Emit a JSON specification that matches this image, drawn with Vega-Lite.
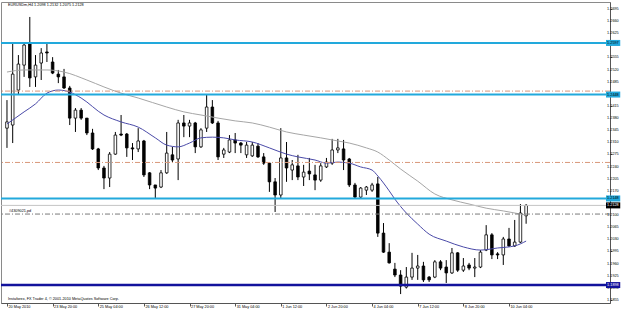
{
  "$schema": "https://vega.github.io/schema/vega-lite/v6.json",
  "width": 609,
  "height": 301,
  "autosize": {"type": "none"},
  "padding": {"left": 1, "top": 2, "right": 15, "bottom": 7},
  "background": "white",
  "config": {"view": {"stroke": "#8a8a8a", "strokeWidth": 1}, "font": "Liberation Sans"},
  "datasets": {
    "candles": [
      {"i":1,"o":1.2351,"h":1.2432,"l":1.2294,"c":1.2369},
      {"i":2,"o":1.2360,"h":1.2597,"l":1.2308,"c":1.2507},
      {"i":3,"o":1.2461,"h":1.2562,"l":1.2447,"c":1.2536},
      {"i":4,"o":1.2533,"h":1.2597,"l":1.2499,"c":1.2591},
      {"i":5,"o":1.2594,"h":1.2672,"l":1.2470,"c":1.2496},
      {"i":6,"o":1.2499,"h":1.2562,"l":1.2470,"c":1.2533},
      {"i":7,"o":1.2539,"h":1.2582,"l":1.2490,"c":1.2568},
      {"i":8,"o":1.2571,"h":1.2597,"l":1.2542,"c":1.2568},
      {"i":9,"o":1.2542,"h":1.2556,"l":1.2507,"c":1.2510},
      {"i":10,"o":1.2507,"h":1.2519,"l":1.2481,"c":1.2499},
      {"i":11,"o":1.2499,"h":1.2522,"l":1.2464,"c":1.2467},
      {"i":12,"o":1.2467,"h":1.2473,"l":1.2360,"c":1.2380},
      {"i":13,"o":1.2380,"h":1.2409,"l":1.2340,"c":1.2403},
      {"i":14,"o":1.2403,"h":1.2409,"l":1.2375,"c":1.2380},
      {"i":15,"o":1.2380,"h":1.2380,"l":1.2331,"c":1.2337},
      {"i":16,"o":1.2337,"h":1.2349,"l":1.2288,"c":1.2291},
      {"i":17,"o":1.2291,"h":1.2294,"l":1.2230,"c":1.2236},
      {"i":18,"o":1.2236,"h":1.2242,"l":1.2175,"c":1.2207},
      {"i":19,"o":1.2207,"h":1.2282,"l":1.2181,"c":1.2276},
      {"i":20,"o":1.2276,"h":1.2340,"l":1.2274,"c":1.2331},
      {"i":21,"o":1.2334,"h":1.2389,"l":1.2328,"c":1.2331},
      {"i":22,"o":1.2334,"h":1.2337,"l":1.2268,"c":1.2294},
      {"i":23,"o":1.2294,"h":1.2308,"l":1.2259,"c":1.2291},
      {"i":24,"o":1.2291,"h":1.2351,"l":1.2282,"c":1.2314},
      {"i":25,"o":1.2314,"h":1.2317,"l":1.2210,"c":1.2216},
      {"i":26,"o":1.2222,"h":1.2224,"l":1.2175,"c":1.2187},
      {"i":27,"o":1.2187,"h":1.2187,"l":1.2149,"c":1.2178},
      {"i":28,"o":1.2181,"h":1.2230,"l":1.2178,"c":1.2222},
      {"i":29,"o":1.2222,"h":1.2340,"l":1.2219,"c":1.2279},
      {"i":30,"o":1.2274,"h":1.2297,"l":1.2253,"c":1.2259},
      {"i":31,"o":1.2262,"h":1.2375,"l":1.2201,"c":1.2366},
      {"i":32,"o":1.2366,"h":1.2389,"l":1.2325,"c":1.2357},
      {"i":33,"o":1.2357,"h":1.2375,"l":1.2325,"c":1.2366},
      {"i":34,"o":1.2366,"h":1.2369,"l":1.2279,"c":1.2297},
      {"i":35,"o":1.2297,"h":1.2351,"l":1.2294,"c":1.2346},
      {"i":36,"o":1.2351,"h":1.2447,"l":1.2340,"c":1.2412},
      {"i":37,"o":1.2412,"h":1.2432,"l":1.2363,"c":1.2366},
      {"i":38,"o":1.2366,"h":1.2372,"l":1.2259,"c":1.2268},
      {"i":39,"o":1.2276,"h":1.2294,"l":1.2265,"c":1.2288},
      {"i":40,"o":1.2282,"h":1.2331,"l":1.2279,"c":1.2317},
      {"i":41,"o":1.2317,"h":1.2337,"l":1.2279,"c":1.2308},
      {"i":42,"o":1.2308,"h":1.2311,"l":1.2279,"c":1.2302},
      {"i":43,"o":1.2274,"h":1.2311,"l":1.2265,"c":1.2302},
      {"i":44,"o":1.2271,"h":1.2311,"l":1.2268,"c":1.2302},
      {"i":45,"o":1.2299,"h":1.2308,"l":1.2265,"c":1.2268},
      {"i":46,"o":1.2268,"h":1.2279,"l":1.2245,"c":1.2250},
      {"i":47,"o":1.2250,"h":1.2253,"l":1.2167,"c":1.2196},
      {"i":48,"o":1.2196,"h":1.2207,"l":1.2109,"c":1.2158},
      {"i":49,"o":1.2158,"h":1.2351,"l":1.2149,"c":1.2265},
      {"i":50,"o":1.2265,"h":1.2311,"l":1.2196,"c":1.2236},
      {"i":51,"o":1.2230,"h":1.2259,"l":1.2201,"c":1.2245},
      {"i":52,"o":1.2242,"h":1.2274,"l":1.2201,"c":1.2210},
      {"i":53,"o":1.2210,"h":1.2245,"l":1.2184,"c":1.2224},
      {"i":54,"o":1.2227,"h":1.2265,"l":1.2201,"c":1.2219},
      {"i":55,"o":1.2216,"h":1.2245,"l":1.2172,"c":1.2201},
      {"i":56,"o":1.2201,"h":1.2250,"l":1.2196,"c":1.2242},
      {"i":57,"o":1.2239,"h":1.2265,"l":1.2236,"c":1.2253},
      {"i":58,"o":1.2250,"h":1.2320,"l":1.2245,"c":1.2288},
      {"i":59,"o":1.2288,"h":1.2320,"l":1.2279,"c":1.2294},
      {"i":60,"o":1.2291,"h":1.2317,"l":1.2230,"c":1.2259},
      {"i":61,"o":1.2262,"h":1.2265,"l":1.2181,"c":1.2187},
      {"i":62,"o":1.2187,"h":1.2193,"l":1.2149,"c":1.2152},
      {"i":63,"o":1.2152,"h":1.2181,"l":1.2149,"c":1.2178},
      {"i":64,"o":1.2172,"h":1.2184,"l":1.2158,"c":1.2181},
      {"i":65,"o":1.2172,"h":1.2193,"l":1.2167,"c":1.2187},
      {"i":66,"o":1.2190,"h":1.2210,"l":1.2037,"c":1.2048},
      {"i":67,"o":1.2048,"h":1.2077,"l":1.1991,"c":1.1993},
      {"i":68,"o":1.1993,"h":1.2019,"l":1.1960,"c":1.1962},
      {"i":69,"o":1.1944,"h":1.1962,"l":1.1921,"c":1.1927},
      {"i":70,"o":1.1927,"h":1.1941,"l":1.1872,"c":1.1895},
      {"i":71,"o":1.1892,"h":1.1950,"l":1.1888,"c":1.1921},
      {"i":72,"o":1.1921,"h":1.1991,"l":1.1913,"c":1.1947},
      {"i":73,"o":1.1947,"h":1.1985,"l":1.1913,"c":1.1953},
      {"i":74,"o":1.1953,"h":1.1965,"l":1.1907,"c":1.1913},
      {"i":75,"o":1.1921,"h":1.1924,"l":1.1907,"c":1.1913},
      {"i":76,"o":1.1921,"h":1.1970,"l":1.1918,"c":1.1965},
      {"i":77,"o":1.1965,"h":1.1970,"l":1.1941,"c":1.1947},
      {"i":78,"o":1.1950,"h":1.1970,"l":1.1904,"c":1.1933},
      {"i":79,"o":1.1933,"h":1.2005,"l":1.1930,"c":1.1991},
      {"i":80,"o":1.1991,"h":1.1993,"l":1.1936,"c":1.1941},
      {"i":81,"o":1.1941,"h":1.1976,"l":1.1936,"c":1.1953},
      {"i":82,"o":1.1956,"h":1.1962,"l":1.1941,"c":1.1947},
      {"i":83,"o":1.1947,"h":1.1976,"l":1.1921,"c":1.1950},
      {"i":84,"o":1.1950,"h":1.1999,"l":1.1947,"c":1.1993},
      {"i":85,"o":1.1999,"h":1.2071,"l":1.1996,"c":1.2043},
      {"i":86,"o":1.2043,"h":1.2048,"l":1.1973,"c":1.1985},
      {"i":87,"o":1.1988,"h":1.1993,"l":1.1973,"c":1.1985},
      {"i":88,"o":1.1985,"h":1.2037,"l":1.1956,"c":1.2031},
      {"i":89,"o":1.2031,"h":1.2063,"l":1.2008,"c":1.2011},
      {"i":90,"o":1.2011,"h":1.2086,"l":1.2008,"c":1.2022},
      {"i":91,"o":1.2022,"h":1.2132,"l":1.2019,"c":1.2106},
      {"i":92,"o":1.2098,"h":1.2132,"l":1.2075,"c":1.2128}
    ],
    "maFast": [
      {"i":1,"v":1.2363},{"i":4,"v":1.2398},{"i":6,"v":1.2421},{"i":8,"v":1.2452},{"i":10,"v":1.2461},
      {"i":12,"v":1.2455},{"i":14,"v":1.2438},{"i":18,"v":1.2389},{"i":21,"v":1.2369},{"i":24,"v":1.2354},
      {"i":27,"v":1.2323},{"i":29,"v":1.2302},{"i":31,"v":1.2297},{"i":33,"v":1.2308},{"i":35,"v":1.2323},
      {"i":37,"v":1.2325},{"i":39,"v":1.2323},{"i":41,"v":1.2317},{"i":44,"v":1.2311},{"i":47,"v":1.2294},
      {"i":50,"v":1.2276},{"i":52,"v":1.2268},{"i":55,"v":1.2259},{"i":57,"v":1.2250},{"i":59,"v":1.2253},
      {"i":61,"v":1.2250},{"i":63,"v":1.2239},{"i":65,"v":1.2230},{"i":66,"v":1.2213},{"i":68,"v":1.2170},
      {"i":69,"v":1.2146},{"i":71,"v":1.2106},{"i":73,"v":1.2074},{"i":75,"v":1.2045},{"i":78,"v":1.2025},
      {"i":81,"v":1.2008},{"i":84,"v":1.1999},{"i":87,"v":1.2005},{"i":90,"v":1.2011},{"i":92,"v":1.2025}
    ],
    "maSlow": [
      {"i":1,"v":1.2513},{"i":4,"v":1.2519},{"i":8,"v":1.2519},{"i":11,"v":1.2513},{"i":15,"v":1.2490},
      {"i":18,"v":1.2470},{"i":21,"v":1.2452},{"i":24,"v":1.2438},{"i":29,"v":1.2412},{"i":32,"v":1.2398},
      {"i":35,"v":1.2389},{"i":38,"v":1.2380},{"i":41,"v":1.2372},{"i":44,"v":1.2366},{"i":47,"v":1.2354},
      {"i":50,"v":1.2340},{"i":53,"v":1.2331},{"i":56,"v":1.2323},{"i":59,"v":1.2314},{"i":61,"v":1.2308},
      {"i":64,"v":1.2294},{"i":66,"v":1.2282},{"i":68,"v":1.2259},{"i":70,"v":1.2233},{"i":73,"v":1.2198},
      {"i":76,"v":1.2161},{"i":79,"v":1.2144},{"i":82,"v":1.2132},{"i":85,"v":1.2120},{"i":88,"v":1.2112},
      {"i":91,"v":1.2103},{"i":92,"v":1.2100}
    ],
    "yTicks": [
      {"p":1.1855},{"p":1.1890},{"p":1.1925},{"p":1.1960},{"p":1.1995},{"p":1.2030},{"p":1.2065},{"p":1.2100},
      {"p":1.2170},{"p":1.2205},{"p":1.2240},{"p":1.2275},{"p":1.2310},{"p":1.2345},{"p":1.2380},{"p":1.2415},
      {"p":1.2450},{"p":1.2485},{"p":1.2520},{"p":1.2555},{"p":1.2590},{"p":1.2625},{"p":1.2660},{"p":1.2695}
    ],
    "blueLevels": [{"p":1.2597},{"p":1.2448},{"p":1.2148}],
    "navyLevels": [{"p":1.1898}],
    "orangeLevels": [{"p":1.2458},{"p":1.2252}],
    "orderLevels": [{"p":1.2103}],
    "priceLevels": [{"p":1.2128}]
  },
  "layer": [
    {
      "data": {"name": "candles"},
      "mark": {"type": "rule", "color": "black", "strokeWidth": 1},
      "encoding": {
        "x": {"field": "i", "type": "quantitative", "title": null,
          "scale": {"domain": [0.8276, 105.828], "nice": false, "zero": false},
          "axis": {"orient": "bottom", "values": [1,5,9,13,17,21,25,29,33,37,41,45,49,53,57,61,65,69,73,77,81,85,89],
            "labelExpr": "['20 May 2010','21 May 04:00','23 May 20:00','24 May 12:00','25 May 04:00','25 May 20:00','26 May 12:00','27 May 04:00','27 May 20:00','28 May 12:00','31 May 04:00','31 May 20:00','1 Jun 12:00','2 Jun 04:00','2 Jun 20:00','3 Jun 12:00','4 Jun 04:00','6 Jun 20:00','7 Jun 12:00','8 Jun 04:00','8 Jun 20:00','9 Jun 12:00','10 Jun 04:00'][(datum.value-1)/4]",
            "labelAlign": "left", "labelBaseline": "top", "labelFontSize": 3.8, "labelColor": "black",
            "labelPadding": -1.5, "labelOffset": 1, "tickSize": 3, "tickColor": "#555555", "domainColor": "#555555",
            "labelOverlap": false, "labelFlush": false, "labelBound": false, "grid": false}},
        "y": {"field": "l", "type": "quantitative", "title": null,
          "scale": {"domain": [1.18462, 1.27152], "nice": false, "zero": false},
          "axis": {"orient": "right", "values": [1.1855,1.189,1.1925,1.196,1.1995,1.203,1.2065,1.21,1.2135,1.217,1.2205,1.224,1.2275,1.231,1.2345,1.238,1.2415,1.245,1.2485,1.252,1.2555,1.259,1.2625,1.266,1.2695],
            "labels": false, "tickSize": 2, "tickColor": "#555555", "domainColor": "#555555", "grid": false}},
        "y2": {"field": "h"}
      }
    },
    {
      "data": {"name": "candles"},
      "mark": {"type": "bar", "size": 2.6, "stroke": "black", "strokeWidth": 0.8},
      "encoding": {
        "x": {"field": "i", "type": "quantitative", "title": null, "scale": {"domain": [0.8276, 105.828], "nice": false, "zero": false}},
        "y": {"field": "o", "type": "quantitative", "title": null, "scale": {"domain": [1.18462, 1.27152], "nice": false, "zero": false}},
        "y2": {"field": "c"},
        "fill": {"condition": {"test": "datum.c >= datum.o", "value": "white"}, "value": "black"}
      }
    },
    {
      "data": {"name": "maSlow"},
      "mark": {"type": "line", "color": "#a6a6a6", "strokeWidth": 1, "interpolate": "monotone"},
      "encoding": {
        "x": {"field": "i", "type": "quantitative", "title": null, "scale": {"domain": [0.8276, 105.828], "nice": false, "zero": false}},
        "y": {"field": "v", "type": "quantitative", "title": null, "scale": {"domain": [1.18462, 1.27152], "nice": false, "zero": false}}
      }
    },
    {
      "data": {"name": "maFast"},
      "mark": {"type": "line", "color": "#4a4aa8", "strokeWidth": 1, "interpolate": "monotone"},
      "encoding": {
        "x": {"field": "i", "type": "quantitative", "title": null, "scale": {"domain": [0.8276, 105.828], "nice": false, "zero": false}},
        "y": {"field": "v", "type": "quantitative", "title": null, "scale": {"domain": [1.18462, 1.27152], "nice": false, "zero": false}}
      }
    },
    {
      "data": {"name": "priceLevels"},
      "mark": {"type": "rule", "color": "#c4c4c4", "strokeWidth": 1},
      "encoding": {"y": {"field": "p", "type": "quantitative", "title": null, "scale": {"domain": [1.18462, 1.27152], "nice": false, "zero": false}}}
    },
    {
      "data": {"name": "orangeLevels"},
      "mark": {"type": "rule", "color": "#d9977a", "strokeWidth": 1, "strokeDash": [5, 2, 1, 2]},
      "encoding": {"y": {"field": "p", "type": "quantitative", "title": null, "scale": {"domain": [1.18462, 1.27152], "nice": false, "zero": false}}}
    },
    {
      "data": {"name": "orderLevels"},
      "mark": {"type": "rule", "color": "#7a7a7a", "strokeWidth": 1, "strokeDash": [5, 2, 1, 2]},
      "encoding": {"y": {"field": "p", "type": "quantitative", "title": null, "scale": {"domain": [1.18462, 1.27152], "nice": false, "zero": false}}}
    },
    {
      "data": {"name": "blueLevels"},
      "mark": {"type": "rule", "color": "#22a9dc", "strokeWidth": 2},
      "encoding": {"y": {"field": "p", "type": "quantitative", "title": null, "scale": {"domain": [1.18462, 1.27152], "nice": false, "zero": false}}}
    },
    {
      "data": {"name": "navyLevels"},
      "mark": {"type": "rule", "color": "#12129c", "strokeWidth": 2.5},
      "encoding": {"y": {"field": "p", "type": "quantitative", "title": null, "scale": {"domain": [1.18462, 1.27152], "nice": false, "zero": false}}}
    },
    {
      "data": {"name": "yTicks"},
      "mark": {"type": "text", "align": "left", "baseline": "middle", "fontSize": 3.8, "color": "black"},
      "encoding": {
        "x": {"datum": 106.2, "type": "quantitative", "scale": {"domain": [0.8276, 105.828], "nice": false, "zero": false}},
        "y": {"field": "p", "type": "quantitative", "title": null, "scale": {"domain": [1.18462, 1.27152], "nice": false, "zero": false}},
        "text": {"field": "p", "type": "quantitative", "format": ".4f"}
      }
    },
    {
      "data": {"name": "blueLevels"},
      "mark": {"type": "rule", "color": "#22a9dc", "strokeWidth": 6, "strokeCap": "butt"},
      "encoding": {
        "x": {"datum": 106.0, "type": "quantitative", "scale": {"domain": [0.8276, 105.828], "nice": false, "zero": false}},
        "x2": {"datum": 108.5},
        "y": {"field": "p", "type": "quantitative", "title": null, "scale": {"domain": [1.18462, 1.27152], "nice": false, "zero": false}}
      }
    },
    {
      "data": {"name": "blueLevels"},
      "mark": {"type": "text", "align": "left", "baseline": "middle", "fontSize": 3.8, "color": "black"},
      "encoding": {
        "x": {"datum": 106.2, "type": "quantitative", "scale": {"domain": [0.8276, 105.828], "nice": false, "zero": false}},
        "y": {"field": "p", "type": "quantitative", "title": null, "scale": {"domain": [1.18462, 1.27152], "nice": false, "zero": false}},
        "text": {"field": "p", "type": "quantitative", "format": ".4f"}
      }
    },
    {
      "data": {"name": "navyLevels"},
      "mark": {"type": "rule", "color": "#12129c", "strokeWidth": 6, "strokeCap": "butt"},
      "encoding": {
        "x": {"datum": 106.0, "type": "quantitative", "scale": {"domain": [0.8276, 105.828], "nice": false, "zero": false}},
        "x2": {"datum": 108.5},
        "y": {"field": "p", "type": "quantitative", "title": null, "scale": {"domain": [1.18462, 1.27152], "nice": false, "zero": false}}
      }
    },
    {
      "data": {"name": "navyLevels"},
      "mark": {"type": "text", "align": "left", "baseline": "middle", "fontSize": 3.8, "color": "white"},
      "encoding": {
        "x": {"datum": 106.2, "type": "quantitative", "scale": {"domain": [0.8276, 105.828], "nice": false, "zero": false}},
        "y": {"field": "p", "type": "quantitative", "title": null, "scale": {"domain": [1.18462, 1.27152], "nice": false, "zero": false}},
        "text": {"field": "p", "type": "quantitative", "format": ".4f"}
      }
    },
    {
      "data": {"name": "priceLevels"},
      "mark": {"type": "rule", "color": "black", "strokeWidth": 6, "strokeCap": "butt"},
      "encoding": {
        "x": {"datum": 106.0, "type": "quantitative", "scale": {"domain": [0.8276, 105.828], "nice": false, "zero": false}},
        "x2": {"datum": 108.5},
        "y": {"field": "p", "type": "quantitative", "title": null, "scale": {"domain": [1.18462, 1.27152], "nice": false, "zero": false}}
      }
    },
    {
      "data": {"name": "priceLevels"},
      "mark": {"type": "text", "align": "left", "baseline": "middle", "fontSize": 3.8, "color": "white"},
      "encoding": {
        "x": {"datum": 106.2, "type": "quantitative", "scale": {"domain": [0.8276, 105.828], "nice": false, "zero": false}},
        "y": {"field": "p", "type": "quantitative", "title": null, "scale": {"domain": [1.18462, 1.27152], "nice": false, "zero": false}},
        "text": {"field": "p", "type": "quantitative", "format": ".4f"}
      }
    },
    {
      "data": {"values": [{}]},
      "mark": {"type": "text", "align": "left", "baseline": "middle", "fontSize": 3.8, "color": "black", "text": "EURUSDm,H4  1.2098 1.2132 1.2075 1.2128"},
      "encoding": {
        "x": {"datum": 1.17, "type": "quantitative", "scale": {"domain": [0.8276, 105.828], "nice": false, "zero": false}},
        "y": {"datum": 1.2707, "type": "quantitative", "scale": {"domain": [1.18462, 1.27152], "nice": false, "zero": false}}
      }
    },
    {
      "data": {"values": [{}]},
      "mark": {"type": "text", "align": "left", "baseline": "middle", "fontSize": 3.8, "color": "black", "text": "Instaforex, FX Trader 4, © 2001-2010 MetaQuotes Software Corp."},
      "encoding": {
        "x": {"datum": 1.17, "type": "quantitative", "scale": {"domain": [0.8276, 105.828], "nice": false, "zero": false}},
        "y": {"datum": 1.1859, "type": "quantitative", "scale": {"domain": [1.18462, 1.27152], "nice": false, "zero": false}}
      }
    },
    {
      "data": {"values": [{}]},
      "mark": {"type": "text", "align": "left", "baseline": "middle", "fontSize": 3.8, "color": "black", "text": "#4309021,pd"},
      "encoding": {
        "x": {"datum": 1.35, "type": "quantitative", "scale": {"domain": [0.8276, 105.828], "nice": false, "zero": false}},
        "y": {"datum": 1.2112, "type": "quantitative", "scale": {"domain": [1.18462, 1.27152], "nice": false, "zero": false}}
      }
    }
  ]
}
